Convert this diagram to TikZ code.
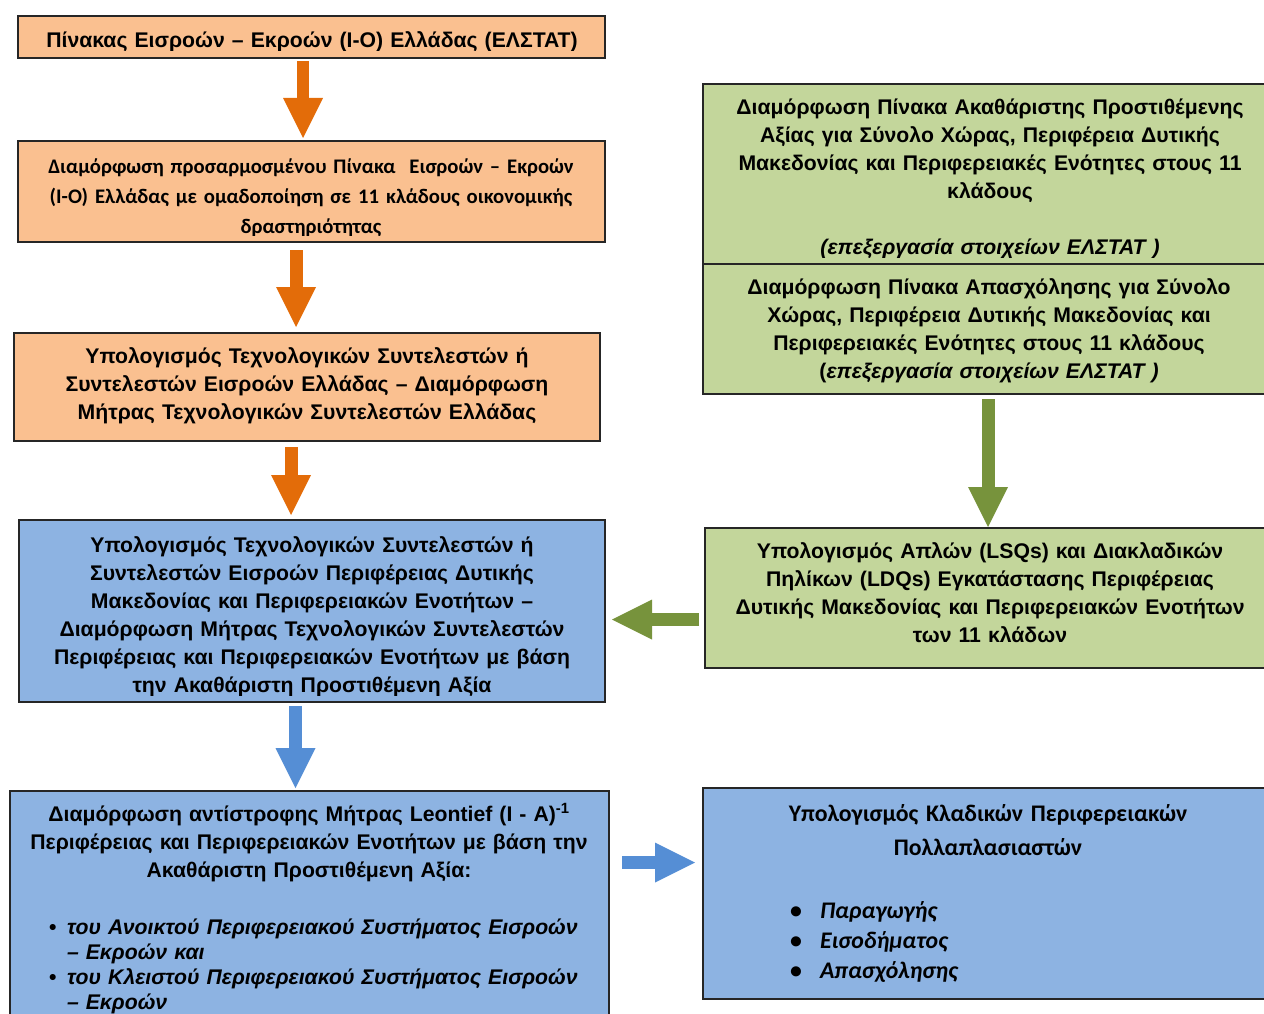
\documentclass[tikz,border=0pt]{standalone}
\usepackage{fontspec}
\setmainfont{Liberation Sans}
\newfontfamily\carl{Carlito}
\usetikzlibrary{arrows.meta,calc}
\definecolor{orfill}{HTML}{FAC090}
\definecolor{orarrow}{HTML}{E36C09}
\definecolor{grfill}{HTML}{C3D69B}
\definecolor{grarrow}{HTML}{77933C}
\definecolor{blfill}{HTML}{8DB3E2}
\definecolor{blarrow}{HTML}{558ED5}
\begin{document}
\begin{tikzpicture}[x=1pt,y=-1pt,
  box/.style={draw=black!85, line width=1.3pt, inner sep=0pt, outer sep=0pt, anchor=north west},
  txt/.style={inner sep=0pt, outer sep=0pt, align=center, anchor=base, text width=640pt,
    font=\bfseries\fontsize{21.2}{28}\selectfont},
  ctxt/.style={inner sep=0pt, outer sep=0pt, align=center, anchor=base, text width=640pt,
    font=\carl\bfseries\fontsize{20.7}{30}\selectfont},
  lst/.style={inner sep=0pt, outer sep=0pt, align=left, anchor=base west, text width=600pt},
  blockarrow/.style={line width=13pt, -{Triangle[length=40pt,width=40pt,line width=0pt]}}
]
\useasboundingbox (0,0) rectangle (1264,1014);

% boxes
\node[box, fill=orfill, minimum width=587pt, minimum height=42pt] (b1) at (18,16) {};
\node[box, fill=orfill, minimum width=587pt, minimum height=101pt] (b2) at (18,141) {};
\node[box, fill=orfill, minimum width=586pt, minimum height=108pt] (b3) at (14,333) {};
\node[box, fill=blfill, minimum width=586pt, minimum height=182pt] (b4) at (19,520) {};
\node[box, fill=blfill, minimum width=599pt, minimum height=240pt] (b5) at (10,791) {};
\node[box, fill=grfill, minimum width=570pt, minimum height=180pt] (g1) at (703,84) {};
\node[box, fill=grfill, minimum width=570pt, minimum height=130pt] (g2) at (703,264) {};
\node[box, fill=grfill, minimum width=570pt, minimum height=140pt] (g3) at (705,528) {};
\node[box, fill=blfill, minimum width=570pt, minimum height=211pt] (r1) at (703,788) {};

% texts
\begin{scope}
\clip (b1.north west) rectangle ($(b1.south east)+(0,-7)$);
\node[txt] (t1) at (312,48)
  {Πίνακας Εισροών – Εκροών (I-O) Ελλάδας (ΕΛΣΤΑΤ)};
\end{scope}
\begin{scope}
\clip (b2.north west) rectangle ($(b2.south east)+(0,-7)$);
\node[ctxt] (t2) at (311,173)
  {Διαμόρφωση προσαρμοσμένου Πίνακα\ \ Εισροών – Εκροών\\
   (I-O) Ελλάδας με ομαδοποίηση σε 11 κλάδους οικονομικής\\
   δραστηριότητας};
\end{scope}
\node[txt] (t3) at (307,363)
  {Υπολογισμός Τεχνολογικών Συντελεστών ή\\
   Συντελεστών Εισροών Ελλάδας – Διαμόρφωση\\
   Μήτρας Τεχνολογικών Συντελεστών Ελλάδας};
\begin{scope}
\clip (b4.north west) rectangle ($(b4.south east)+(0,-7)$);
\node[txt] (t4) at (312,552)
  {Υπολογισμός Τεχνολογικών Συντελεστών ή\\
   Συντελεστών Εισροών Περιφέρειας Δυτικής\\
   Μακεδονίας και Περιφερειακών Ενοτήτων –\\
   Διαμόρφωση Μήτρας Τεχνολογικών Συντελεστών\\
   Περιφέρειας και Περιφερειακών Ενοτήτων με βάση\\
   την Ακαθάριστη Προστιθέμενη Αξία};
\end{scope}
\node[txt] (t5) at (309,821)
  {Διαμόρφωση αντίστροφης Μήτρας Leontief (I - A)\textsuperscript{-1}\\
   Περιφέρειας και Περιφερειακών Ενοτήτων με βάση την\\
   Ακαθάριστη Προστιθέμενη Αξία:};
\node[lst, font=\bfseries\itshape\fontsize{21.2}{25}\selectfont] (t5l) at (49,934)
  {\makebox[18pt][l]{\upshape •}του Ανοικτού Περιφερειακού Συστήματος Εισροών\\
   \hspace*{18pt}– Εκροών και\\
   \makebox[18pt][l]{\upshape •}του Κλειστού Περιφερειακού Συστήματος Εισροών\\
   \hspace*{18pt}– Εκροών};
\begin{scope}
\clip (g1.north west) rectangle ($(g1.south east)+(0,-7)$);
\node[txt] (tg1) at (990,115)
  {Διαμόρφωση Πίνακα Ακαθάριστης Προστιθέμενης\\
   Αξίας για Σύνολο Χώρας, Περιφέρεια Δυτικής\\
   Μακεδονίας και Περιφερειακές Ενότητες στους 11\\
   κλάδους\\[28pt]
   \textit{(επεξεργασία στοιχείων ΕΛΣΤΑΤ )}};
\end{scope}
\node[txt] (tg2) at (989,294)
  {Διαμόρφωση Πίνακα Απασχόλησης για Σύνολο\\
   Χώρας, Περιφέρεια Δυτικής Μακεδονίας και\\
   Περιφερειακές Ενότητες στους 11 κλάδους\\
   (\textit{επεξεργασία στοιχείων ΕΛΣΤΑΤ )}};
\node[txt] (tg3) at (990,558)
  {Υπολογισμός Απλών (LSQs) και Διακλαδικών\\
   Πηλίκων (LDQs) Εγκατάστασης Περιφέρειας\\
   Δυτικής Μακεδονίας και Περιφερειακών Ενοτήτων\\
   των 11 κλάδων};
\node[ctxt, font=\carl\bfseries\fontsize{23.8}{34}\selectfont] (tr1) at (988,821)
  {Υπολογισμός Κλαδικών Περιφερειακών\\
   Πολλαπλασιαστών};
\node[lst, font=\carl\bfseries\itshape\fontsize{23.8}{30}\selectfont] (tr1l) at (790,918)
  {\makebox[30pt][l]{\upshape •}Παραγωγής\\
   \makebox[30pt][l]{\upshape •}Εισοδήματος\\
   \makebox[30pt][l]{\upshape •}Απασχόλησης};

% arrows
\draw[blockarrow, orarrow, line width=12pt] ($(b1.south west)+(285,3)$) -- ($(b2.north west)+(285,-3)$);
\draw[blockarrow, orarrow] ($(b2.south west)+(278,8)$) -- ($(b3.north west)+(282,-6)$);
\draw[blockarrow, orarrow] ($(b3.south west)+(277,6)$) -- ($(b4.north west)+(272,-5)$);
\draw[blockarrow, blarrow] ($(b4.south west)+(276.5,4)$) -- ($(b5.north west)+(285.5,-3)$);
\draw[blockarrow, grarrow] ($(g2.south west)+(285,5)$) -- ($(g3.north west)+(283,-1)$);
\draw[blockarrow, grarrow] ($(g3.south west)+(-6,-48.5)$) -- ($(b4.south east)+(7,-82.5)$);
\draw[blockarrow, blarrow] ($(b5.north east)+(13,71.5)$) -- ($(r1.north west)+(-8,74.5)$);
\end{tikzpicture}
\end{document}
